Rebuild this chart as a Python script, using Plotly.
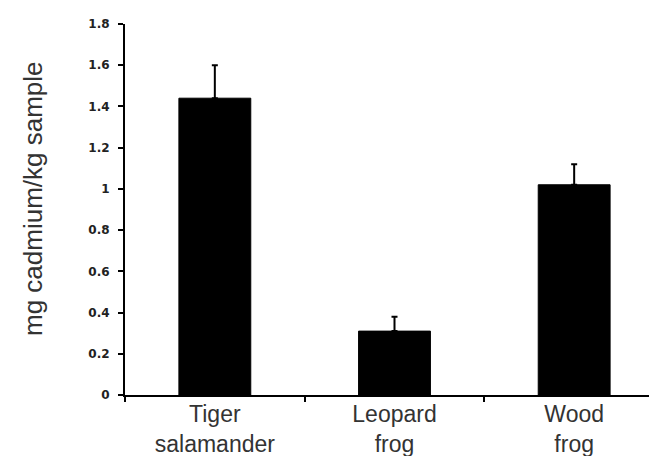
import plotly.graph_objects as go

categories = ["Tiger<br>salamander", "Leopard<br>frog", "Wood<br>frog"]
means = [1.44, 0.31, 1.02]
errors_up = [0.16, 0.07, 0.10]
y_tick_vals = [0, 0.2, 0.4, 0.6, 0.8, 1.0, 1.2, 1.4, 1.6, 1.8]
y_tick_text = ["0", "0.2", "0.4", "0.6", "0.8", "1", "1.2", "1.4", "1.6", "1.8"]

fig = go.Figure()
fig.add_trace(go.Bar(
    x=categories,
    y=means,
    width=0.4,
    marker=dict(color="black", line=dict(color="black", width=1)),
    error_y=dict(type="data", symmetric=False, array=errors_up,
                 arrayminus=[0, 0, 0], color="black", thickness=2, width=3),
))

fig.update_layout(
    width=657, height=456,
    margin=dict(l=117, r=1, t=16, b=69),
    plot_bgcolor="white", paper_bgcolor="white",
    showlegend=False,
    xaxis=dict(
        showline=True, linecolor="black", linewidth=2,
        ticks="outside", tickson="boundaries", ticklen=5, tickwidth=2,
        tickcolor="black",
        tickfont=dict(family="Liberation Sans, Arial", size=23, color="#333333"),
        ticklabelstandoff=-3,
        showgrid=False, zeroline=False,
    ),
    yaxis=dict(
        range=[0, 1.8],
        tickvals=y_tick_vals, ticktext=y_tick_text,
        showline=True, linecolor="black", linewidth=2,
        ticks="outside", ticklen=5, tickwidth=2, tickcolor="black",
        tickfont=dict(family="DejaVu Sans", size=12, color="#222222", weight="bold"),
        ticklabelstandoff=6,
        showgrid=False, zeroline=False,
    ),
    annotations=[dict(
        text="mg cadmium/kg sample", textangle=-90,
        xref="paper", yref="paper", x=(25 - 117) / 539, y=(387 - 191) / 371,
        xanchor="center", yanchor="middle", showarrow=False,
        font=dict(family="Liberation Sans, Arial", size=26, color="#333333"),
    )],
)

fig.write_html("out.html")
